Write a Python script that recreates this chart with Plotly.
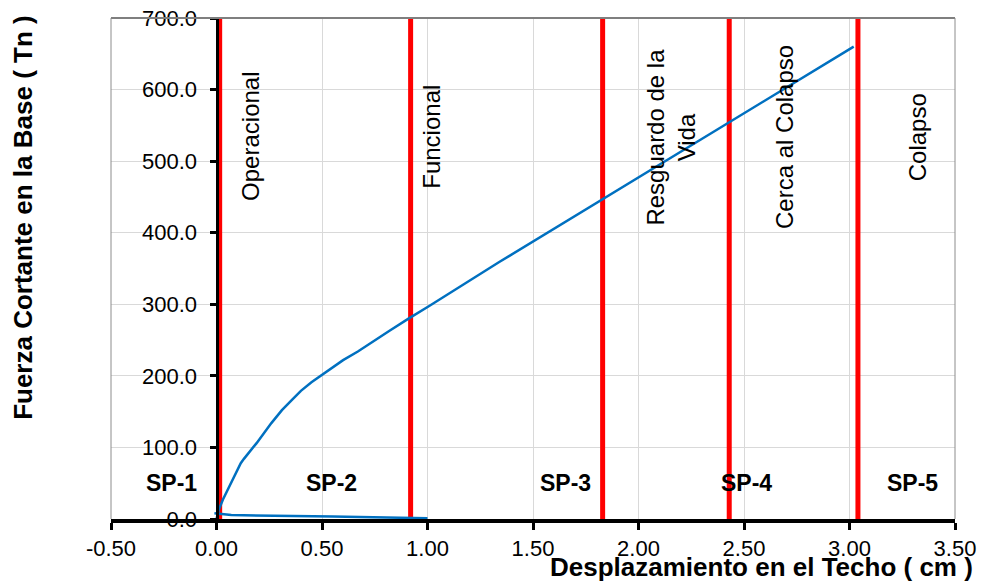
import plotly.graph_objects as go

# ---------------- data ----------------
# pushover curve (loading branch)
disp_load = [0.0, 0.01, 0.03, 0.06, 0.10, 0.115, 0.13, 0.19, 0.26, 0.31, 0.36, 0.40, 0.45,
             0.50, 0.55, 0.60, 0.67, 0.74, 0.82, 0.91, 1.01, 1.34, 1.72, 1.82, 2.43, 3.02]
shear_load = [0, 12, 27, 45, 68, 78, 84, 106, 134, 152, 167, 179, 191,
              201, 212, 222, 234, 247, 263, 280, 298, 359, 427, 446, 555, 660]
# lower branch near the axis
disp_low = [-0.01, 0.07, 0.55, 1.0]
shear_low = [8, 5.5, 3.5, 1]

# performance level limits (red lines)
limit_x = [0.015, 0.92, 1.83, 2.43, 3.04]
limit_labels = ["Operacional", "Funcional", "Resguardo de la<br>Vida", "Cerca al Colapso", "Colapso"]
limit_label_x = [0.164, 1.021, 2.153, 2.695, 3.322]
limit_label_y = 534

sp_labels = ["SP-1", "SP-2", "SP-3", "SP-4", "SP-5"]
sp_x = [-0.215, 0.545, 1.655, 2.51, 3.30]
sp_y = 50

x_ticks = [-0.5, 0.0, 0.5, 1.0, 1.5, 2.0, 2.5, 3.0, 3.5]
x_tick_text = ["-0.50", "0.00", "0.50", "1.00", "1.50", "2.00", "2.50", "3.00", "3.50"]
y_ticks = [0, 100, 200, 300, 400, 500, 600, 700]
y_tick_text = ["0.0", "100.0", "200.0", "300.0", "400.0", "500.0", "600.0", "700.0"]

x_title = "Desplazamiento en el Techo ( cm )"
y_title = "Fuerza Cortante en la Base ( Tn )"

FONT = "Arial, Liberation Sans, sans-serif"

fig = go.Figure()

# red limit lines
for lx in limit_x:
    fig.add_trace(go.Scatter(x=[lx, lx], y=[0, 700], mode="lines",
                             line=dict(color="#ff0000", width=5),
                             showlegend=False, hoverinfo="skip"))

fig.add_trace(go.Scatter(x=disp_low, y=shear_low, mode="lines",
                         line=dict(color="#0070c0", width=2.5), showlegend=False))
fig.add_trace(go.Scatter(x=disp_load, y=shear_load, mode="lines",
                         line=dict(color="#0070c0", width=2.5), showlegend=False))

annotations = []
for t, lx in zip(limit_labels, limit_label_x):
    annotations.append(dict(x=lx, y=limit_label_y, xref="x", yref="y", text=t,
                            textangle=-90, showarrow=False, xanchor="center", yanchor="middle",
                            font=dict(family=FONT, size=24, color="black")))
for t, sx in zip(sp_labels, sp_x):
    annotations.append(dict(x=sx, y=sp_y, xref="x", yref="y", text="<b>%s</b>" % t,
                            showarrow=False, xanchor="center", yanchor="middle",
                            font=dict(family=FONT, size=23, color="black")))
annotations.append(dict(x=1.0237, y=-0.0958, xref="paper", yref="paper",
                        text="<b>%s</b>" % x_title, showarrow=False,
                        xanchor="right", yanchor="middle",
                        font=dict(family=FONT, size=26, color="black")))
annotations.append(dict(x=-0.1043, y=0.603, xref="paper", yref="paper",
                        text="<b>%s</b>" % y_title, showarrow=False, textangle=-90,
                        xanchor="center", yanchor="middle",
                        font=dict(family=FONT, size=26, color="black")))

shapes = [
    dict(type="line", xref="paper", yref="paper", x0=0, x1=1, y0=1, y1=1,
         line=dict(color="#7f7f7f", width=2)),
    dict(type="line", xref="paper", yref="paper", x0=0, x1=0, y0=0, y1=1,
         line=dict(color="#8c8c8c", width=1)),
    dict(type="line", xref="paper", yref="paper", x0=1, x1=1, y0=0, y1=1,
         line=dict(color="#8c8c8c", width=1)),
]

fig.update_layout(
    width=992, height=582,
    margin=dict(l=111, r=37, t=18, b=63, autoexpand=False),
    paper_bgcolor="white", plot_bgcolor="white",
    font=dict(family=FONT, color="black"),
    showlegend=False,
    annotations=annotations,
    shapes=shapes,
    xaxis=dict(range=[-0.5, 3.5], domain=[0, 1], tickvals=x_ticks, ticktext=x_tick_text,
               showgrid=True, gridcolor="#d9d9d9", gridwidth=1, zeroline=False,
               showline=True, linecolor="black", linewidth=4,
               ticks="outside", ticklen=7, tickwidth=3, tickcolor="black",
               tickfont=dict(family=FONT, size=22, color="black"),
               anchor="y", side="bottom", fixedrange=True, automargin=False),
    yaxis=dict(range=[0, 700], domain=[0, 1], tickvals=y_ticks, ticktext=y_tick_text,
               showgrid=True, gridcolor="#d9d9d9", gridwidth=1, zeroline=False,
               showline=True, linecolor="black", linewidth=3,
               ticks="outside", ticklen=6, tickwidth=3, tickcolor="black",
               tickfont=dict(family=FONT, size=22, color="black"),
               anchor="free", position=0.125, ticklabelstandoff=8, fixedrange=True,
               automargin=False),
)

fig.write_html("out.html")
